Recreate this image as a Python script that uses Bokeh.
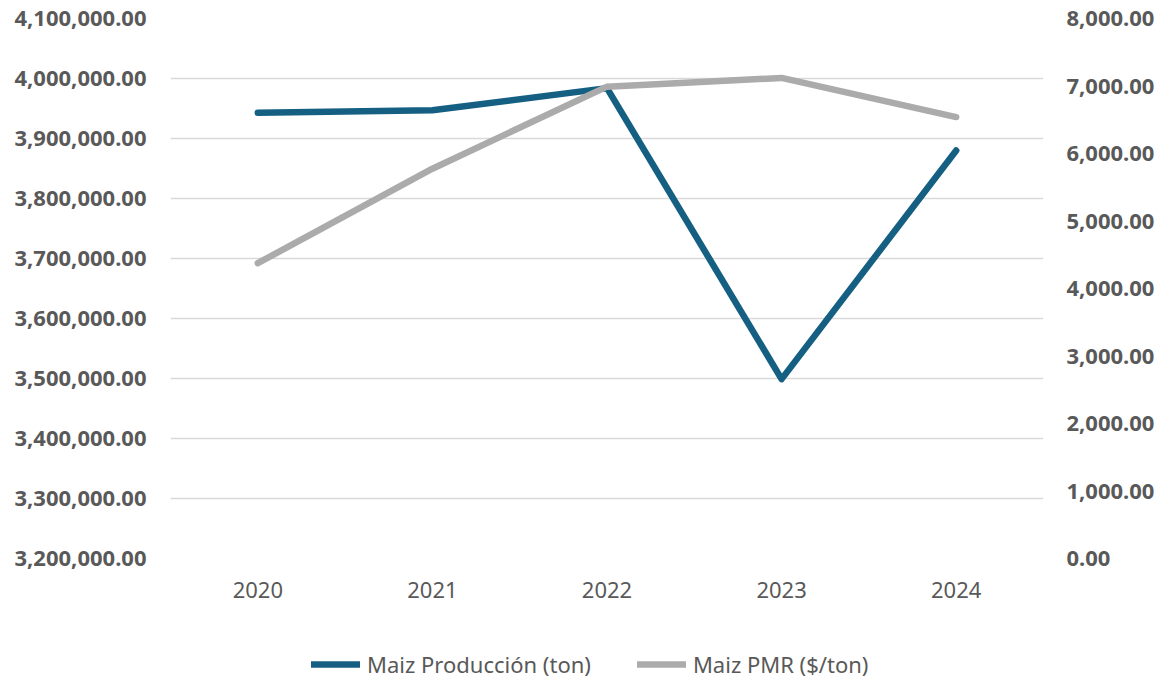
from bokeh.plotting import figure
from bokeh.layouts import column
from bokeh.models import (FactorRange, Range1d, LinearAxis, NumeralTickFormatter,
                          FixedTicker, Legend, LegendItem, ColumnDataSource)
from bokeh.embed import file_html
from bokeh.resources import INLINE

years = ["2020", "2021", "2022", "2023", "2024"]
produccion = [3943000, 3947000, 3984000, 3499000, 3880000]
pmr = [4375, 5775, 6990, 7120, 6540]
series_names = ["Maiz Producción (ton)", "Maiz PMR ($/ton)"]

left_ticks = [3200000, 3300000, 3400000, 3500000, 3600000, 3700000, 3800000, 3900000, 4000000, 4100000]
right_ticks = [0, 1000, 2000, 3000, 4000, 5000, 6000, 7000, 8000]

TEXT = "#595959"
BLUE = "#156082"
GRAY = "#ABABAB"
FONT = "Noto Sans"

src = ColumnDataSource(data=dict(year=years, prod=produccion, pmr=pmr))

p = figure(width=1162, height=620, output_backend="svg", toolbar_location=None,
           x_range=FactorRange(*years, range_padding=0),
           y_range=Range1d(3200000, 4100000),
           min_border_left=170, min_border_right=119, min_border_top=18, min_border_bottom=62)
p.outline_line_color = None
p.extra_y_ranges = {"right": Range1d(0, 8000)}

# grid
p.xgrid.grid_line_color = None
p.ygrid.grid_line_color = "#D9D9D9"
p.ygrid.grid_line_width = 1.5
p.ygrid.ticker = FixedTicker(ticks=left_ticks)

# left axis
ya = p.yaxis[0]
ya.ticker = FixedTicker(ticks=left_ticks)
ya.formatter = NumeralTickFormatter(format="0,0.00")
ya.axis_line_color = None
ya.major_tick_line_color = None
ya.minor_tick_line_color = None
ya.major_label_standoff = 18
ya.major_label_text_font = FONT
ya.major_label_text_font_style = "bold"
ya.major_label_text_font_size = "22px"
ya.major_label_text_color = TEXT

# right axis
ra = LinearAxis(y_range_name="right", ticker=FixedTicker(ticks=right_ticks),
                formatter=NumeralTickFormatter(format="0,0.00"))
ra.axis_line_color = None
ra.major_tick_line_color = None
ra.minor_tick_line_color = None
ra.major_label_standoff = 17
ra.major_label_text_font = FONT
ra.major_label_text_font_style = "bold"
ra.major_label_text_font_size = "22px"
ra.major_label_text_color = TEXT
p.add_layout(ra, "right")

# x axis
xa = p.xaxis[0]
xa.axis_line_color = None
xa.major_tick_line_color = None
xa.minor_tick_line_color = None
xa.major_label_standoff = 17
xa.major_label_text_font = FONT
xa.major_label_text_font_size = "22px"
xa.major_label_text_color = TEXT

line_kw = dict(line_width=6.5, line_cap="round", line_join="round")
r1 = p.line("year", "prod", source=src, line_color=BLUE, **line_kw)
r2 = p.line("year", "pmr", source=src, y_range_name="right", line_color=GRAY, **line_kw)

# legend strip below the chart (its series lie outside its own view range,
# so only the legend entries are visible)
lg = figure(width=1162, height=59, output_backend="svg", toolbar_location=None,
            x_range=FactorRange(*years, range_padding=0), y_range=Range1d(0, 1),
            min_border_left=0, min_border_right=0, min_border_top=0, min_border_bottom=0,
            x_axis_type=None, y_axis_type=None)
lg.outline_line_color = None
lg.grid.visible = False
g1 = lg.line("year", "prod", source=src, line_color=BLUE, **line_kw)
g2 = lg.line("year", "pmr", source=src, line_color=GRAY, **line_kw)

legend = Legend(items=[LegendItem(label=series_names[0], renderers=[g1]),
                       LegendItem(label=series_names[1], renderers=[g2])],
                orientation="horizontal", location=(141, 0))
legend.border_line_color = None
legend.background_fill_alpha = 0
legend.padding = 0
legend.margin = 0
legend.spacing = 46
legend.glyph_width = 49
legend.glyph_height = 20
legend.label_height = 20
legend.label_standoff = 7
legend.label_text_font = FONT
legend.label_text_font_size = "22px"
legend.label_text_color = TEXT
legend.label_text_baseline = "middle"
lg.add_layout(legend, "center")

open("out.html", "w").write(file_html(column(p, lg, spacing=0), INLINE))
